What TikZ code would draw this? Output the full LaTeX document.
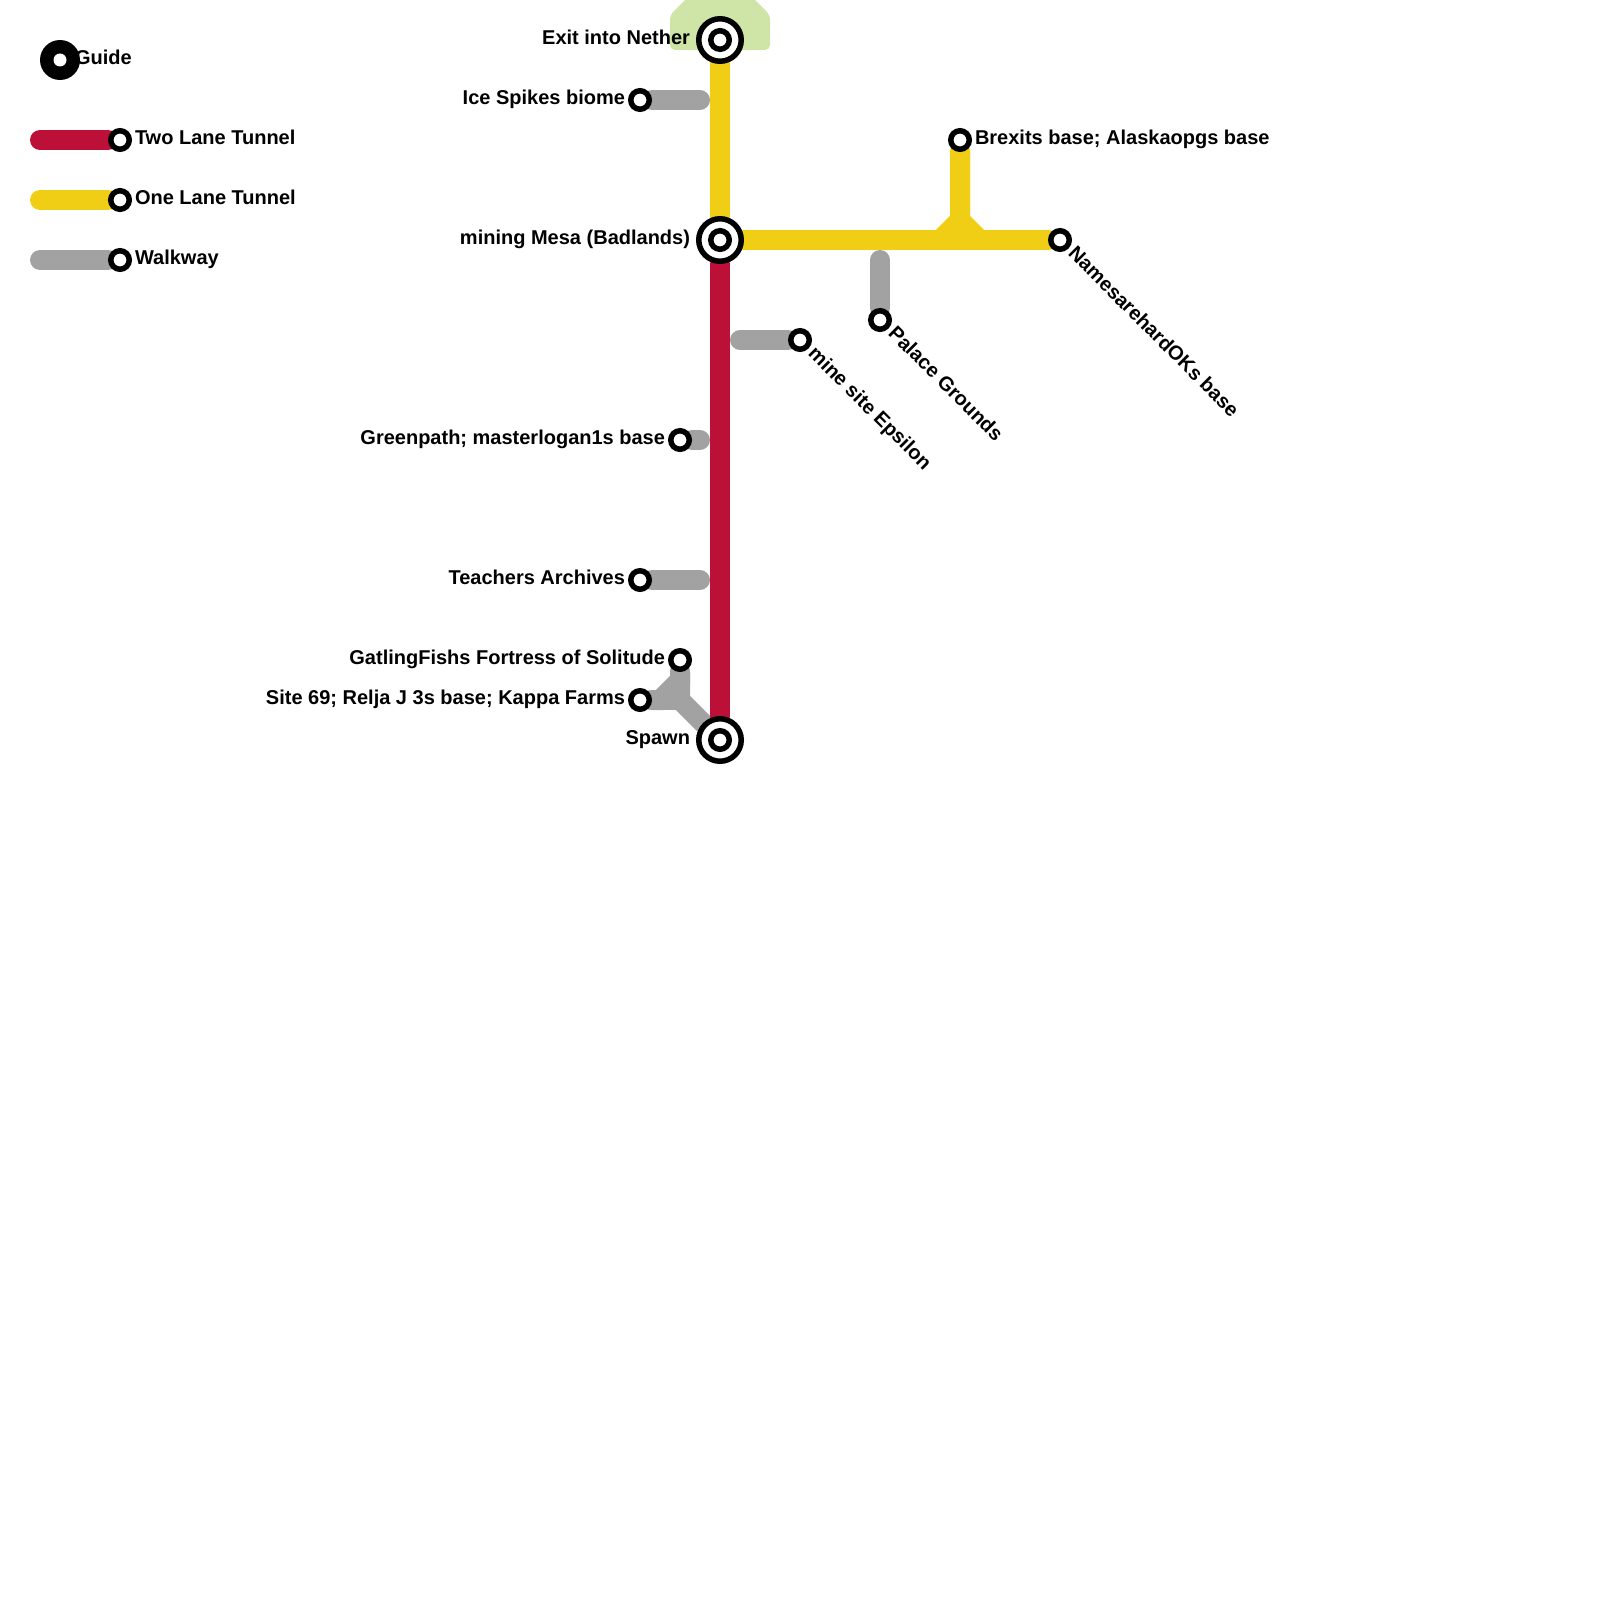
\documentclass[tikz,border=0pt]{standalone}
\usepackage{fontspec}
\setmainfont{Liberation Sans}
\usetikzlibrary{positioning,backgrounds}
\definecolor{twolane}{HTML}{BD1038}
\definecolor{onelane}{HTML}{F0CE15}
\definecolor{walk}{HTML}{A2A2A2}
\definecolor{biome}{HTML}{CFE4A7}
\begin{document}
\begin{tikzpicture}[
		x=0.5pt, y=-0.5pt,
		tunnel/.style={line width=10pt, line cap=round, line join=miter},
		station/.style={circle, draw=black, fill=white, line width=2.75pt, minimum size=9.25pt, inner sep=0pt},
		hub/.style={station, minimum size=21.25pt},
		guidedot/.style={circle, fill=black, minimum size=20pt, inner sep=0pt},
		guidehole/.style={circle, fill=white, minimum size=6.5pt, inner sep=0pt},
		lbl/.style={font=\bfseries\fontsize{10pt}{12pt}\selectfont, inner sep=0pt, outer sep=0pt, text height=7pt, text depth=2.5pt},
		tilted/.style={lbl, rotate=-45, anchor=west}
		]
		\useasboundingbox (0,0) rectangle (1600,1600);

		% legend
		\node[guidedot] (guide) at (60,60) {};
		\node[guidehole] (guidein) at (60,60) {};
		\node[lbl, anchor=west] (guidetext) at (75,60) {Guide};
		\node[station] (legtwo) at (120,140) {};
		\node[station] (legone) at (120,200) {};
		\node[station] (legwalk) at (120,260) {};
		\node[lbl, right=1.5pt of legtwo] (legtwotext) {Two Lane Tunnel};
		\node[lbl, right=1.5pt of legone] (legonetext) {One Lane Tunnel};
		\node[lbl, right=1.5pt of legwalk] (legwalktext) {Walkway};
		\coordinate (legtwoend) at (40,140);
		\coordinate (legoneend) at (40,200);
		\coordinate (legwalkend) at (40,260);

		% hubs
		\node[hub] (nether) at (720,40) {};
		\node[station] (netherin) at (720,40) {};
		\node[hub] (mesa) at (720,240) {};
		\node[station] (mesain) at (720,240) {};
		\node[hub] (spawn) at (720,740) {};
		\node[station] (spawnin) at (720,740) {};
		\node[lbl, left=3pt of nether] (nethertext) {Exit into Nether};
		\node[lbl, left=3pt of mesa] (mesatext) {mining Mesa (Badlands)};
		\node[lbl, left=3pt of spawn] (spawntext) {Spawn};

		% stations
		\node[station] (ice) at (640,100) {};
		\node[station] (green) at (680,440) {};
		\node[station] (teachers) at (640,580) {};
		\node[station] (gatling) at (680,660) {};
		\node[station] (site) at (640,700) {};
		\node[station] (brexits) at (960,140) {};
		\node[station] (names) at (1060,240) {};
		\node[station] (palace) at (880,320) {};
		\node[station] (mine) at (800,340) {};
		\node[lbl, left=1.5pt of ice] (icetext) {Ice Spikes biome};
		\node[lbl, left=1.5pt of green] (greentext) {Greenpath; masterlogan1s base};
		\node[lbl, left=1.5pt of teachers] (teacherstext) {Teachers Archives};
		\node[lbl, left=1.5pt of gatling] (gatlingtext) {GatlingFishs Fortress of Solitude};
		\node[lbl, left=1.5pt of site] (sitetext) {Site 69; Relja J 3s base; Kappa Farms};
		\node[lbl, right=1.5pt of brexits] (brexitstext) {Brexits base; Alaskaopgs base};
		\node[tilted] (namestext) at ([shift={(2,3)}]names.-45) {NamesarehardOKs base};
		\node[tilted] (palacetext) at ([shift={(2,3)}]palace.-45) {Palace Grounds};
		\node[tilted] (minetext) at ([shift={(2,3)}]mine.-45) {mine site Epsilon};

		% free ends and bends
		\coordinate (iceend) at (700,100);
		\coordinate (greenend) at (700,440);
		\coordinate (teachersend) at (700,580);
		\coordinate (palaceend) at (880,260);
		\coordinate (mineend) at (740,340);
		\coordinate (forkup) at (960,220);
		\coordinate (forkleft) at (940,240);
		\coordinate (forkright) at (980,240);
		\coordinate (walkmid) at (680,700);
		\coordinate (walkleft) at (660,700);
		\coordinate (walkup) at (680,680);

		\begin{pgfonlayer}{background}
			\fill[biome, rounded corners=2.5pt] (690,-5) -- (670,15) -- (670,50) -- (770,50) -- (770,15) -- (750,-5) -- cycle;
			\draw[tunnel, twolane] (legtwoend) -- (legtwo);
			\draw[tunnel, onelane] (legoneend) -- (legone);
			\draw[tunnel, walk] (legwalkend) -- (legwalk);
			\draw[tunnel, walk] (ice) -- (iceend);
			\draw[tunnel, walk] (green) -- (greenend);
			\draw[tunnel, walk] (teachers) -- (teachersend);
			\draw[tunnel, walk] (palace) -- (palaceend);
			\draw[tunnel, walk] (mine) -- (mineend);
			\draw[tunnel, walk] (site) -- (walkleft) -- (walkup) -- (gatling);
			\draw[tunnel, walk] (site) -- (walkmid);
			\draw[tunnel, walk] (gatling) -- (walkmid) -- (spawn);
			\draw[tunnel, onelane] (nether) -- (mesa);
			\draw[tunnel, onelane] (mesa) -- (names);
			\draw[tunnel, onelane] (brexits) -- (forkup) -- (forkleft);
			\draw[tunnel, onelane] (brexits) -- (forkup) -- (forkright);
			\draw[tunnel, twolane] (mesa) -- (spawn);
		\end{pgfonlayer}
	\end{tikzpicture}
\end{document}
